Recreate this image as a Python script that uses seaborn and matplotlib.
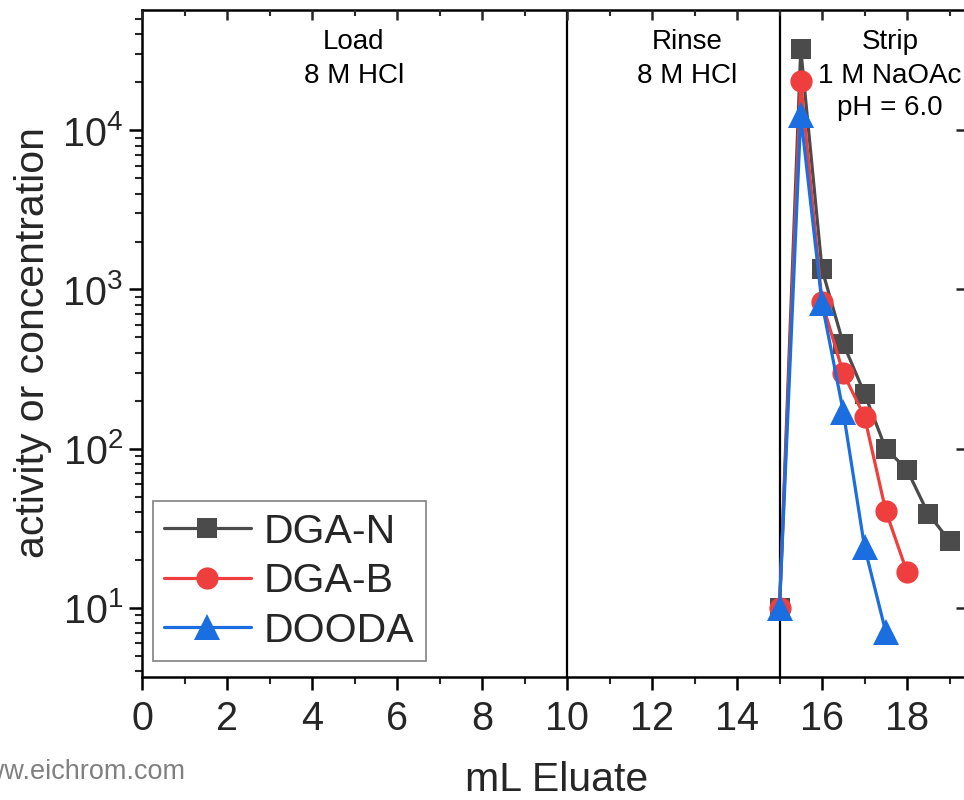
import matplotlib
matplotlib.use("Agg")
import matplotlib.pyplot as plt
import matplotlib.ticker as mticker
import numpy as np
import pandas as pd
import seaborn as sns

# Elution volumes (mL) and measured activity / concentration for each resin
dga_n_ml = [15.0, 15.5, 16.0, 16.5, 17.0, 17.5, 18.0, 18.5, 19.0]
dga_n_val = [10.0, 32300, 1340, 457, 222, 100, 73.8, 39.0, 26.4]

dga_b_ml = [15.0, 15.5, 16.0, 16.5, 17.0, 17.5, 18.0]
dga_b_val = [10.0, 20300, 832, 298, 159, 40.7, 16.8]

dooda_ml = [15.0, 15.5, 16.0, 16.5, 17.0, 17.5]
dooda_val = [10.0, 12400, 820, 171, 24.2, 7.06]

series_names = ["DGA-N", "DGA-B", "DOODA"]
series_colors = ["#4b4b4b", "#ef3e3e", "#1a6ee0"]
series_markers = ["s", "o", "^"]
series_msize = [14.5, 16.0, 18.5]

# Step boundaries (mL) and the text lines describing each step
step_edges = [10, 15]
step_lines = [["Load", "8 M HCl"],
              ["Rinse", "8 M HCl"],
              ["Strip", "1 M NaOAc", "pH = 6.0"]]
step_label_x = [4.98, 12.82, 17.6]
line_baselines_px = [49, 83, 115]

x_major = [0, 2, 4, 6, 8, 10, 12, 14, 16, 18]
y_major = [10, 100, 1000, 10000]
y_labels = ["$10^{1}$", "$10^{2}$", "$10^{3}$", "$10^{4}$"]

frames = []
for name, xs, ys in zip(series_names, [dga_n_ml, dga_b_ml, dooda_ml],
                        [dga_n_val, dga_b_val, dooda_val]):
    frames.append(pd.DataFrame({"mL": xs, "value": ys, "resin": name}))
df = pd.concat(frames, ignore_index=True)

sns.set_style("ticks")
plt.rcParams["font.family"] = ["Liberation Sans", "DejaVu Sans"]
plt.rcParams["mathtext.fontset"] = "custom"
plt.rcParams["mathtext.rm"] = "Liberation Sans"
plt.rcParams["mathtext.it"] = "Liberation Sans:italic"
plt.rcParams["mathtext.bf"] = "Liberation Sans:bold"

W, H = 964, 800
fig = plt.figure(figsize=(W / 100, H / 100), dpi=100)
x0, x1, y0, y1 = 142, 966, 10, 677
ax = fig.add_axes([x0 / W, 1 - y1 / H, (x1 - x0) / W, (y1 - y0) / H])

for name, color, mk, ms in zip(series_names, series_colors, series_markers, series_msize):
    sub = df[df["resin"] == name]
    sns.lineplot(data=sub, x="mL", y="value", ax=ax, color=color, marker=mk,
                 markersize=ms, markeredgewidth=0, linewidth=2.3, label=name,
                 sort=False, estimator=None, clip_on=False)

for xe in step_edges:
    ax.axvline(xe, color="black", linewidth=1.6, zorder=1)

ax.set_yscale("log")
ax.set_xlim(0, (x1 - x0) / 42.5)
ax.set_ylim(3.68, 56900)

ax.set_xticks(x_major)
ax.set_xticklabels([str(v) for v in x_major])
ax.xaxis.set_minor_locator(mticker.MultipleLocator(1))
ax.set_yticks(y_major)
ax.set_yticklabels(y_labels)
ax.yaxis.set_minor_locator(mticker.LogLocator(base=10, subs=np.arange(2, 10)))
ax.yaxis.set_minor_formatter(mticker.NullFormatter())

ax.tick_params(axis="both", which="major", labelsize=28.5, width=1.8, length=9.5,
               direction="out", color="black")
ax.tick_params(axis="both", which="minor", width=1.5, length=5, direction="out")
ax.tick_params(axis="x", which="major", pad=7)
ax.tick_params(axis="y", which="major", pad=4)
for sp in ax.spines.values():
    sp.set_linewidth(1.8)
    sp.set_color("black")

# inward ticks on the top and right frame edges
ax_top = ax.twiny()
ax_top.set_xlim(ax.get_xlim())
ax_top.set_xticks(x_major)
ax_top.xaxis.set_minor_locator(mticker.MultipleLocator(1))
ax_top.tick_params(axis="x", which="major", direction="in", length=7.5, width=1.8,
                   labeltop=False, top=True)
ax_top.tick_params(axis="x", which="minor", direction="in", length=4, width=1.5, top=True)
ax_right = ax.twinx()
ax_right.set_yscale("log")
ax_right.set_ylim(ax.get_ylim())
ax_right.set_yticks(y_major)
ax_right.yaxis.set_minor_locator(mticker.NullLocator())
ax_right.tick_params(axis="y", which="major", direction="in", length=7, width=1.8,
                     labelright=False, right=True)
for a in (ax_top, ax_right):
    for sp in a.spines.values():
        sp.set_visible(False)

for lines, xl in zip(step_lines, step_label_x):
    for txt, yb in zip(lines, line_baselines_px):
        ax.text(xl, 1 - (yb - y0) / (y1 - y0), txt, transform=ax.get_xaxis_transform(),
                ha="center", va="baseline", fontsize=20, color="black")

ax.set_xlabel("")
ax.set_ylabel("")
fig.text(33 / W, 1 - 343 / H, "activity or concentration", rotation=90,
         ha="center", va="center", fontsize=29.5)
fig.text(557 / W, 1 - 791 / H, "mL Eluate", ha="center", va="baseline", fontsize=29.5)
fig.text(185 / W, 1 - 779 / H, "www.eichrom.com", ha="right", va="baseline",
         fontsize=19.5, color="#808080")

leg = ax.legend(loc="lower left", bbox_to_anchor=((153 - x0) / (x1 - x0), (y1 - 661) / (y1 - y0)),
                borderaxespad=0, fontsize=29.5, frameon=True, fancybox=False,
                handlelength=2.1, handletextpad=0.33, borderpad=0.28, labelspacing=0.28,
                markerscale=1.0)
leg.get_frame().set_edgecolor("#6e6e6e")
leg.get_frame().set_linewidth(1.3)

fig.savefig("out.png", dpi=100)
